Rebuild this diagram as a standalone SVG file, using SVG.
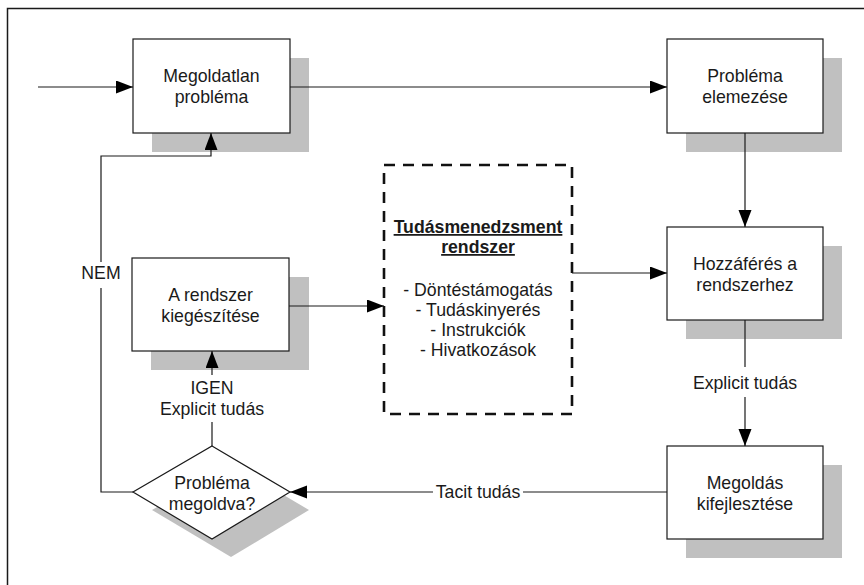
<svg xmlns="http://www.w3.org/2000/svg" width="864" height="585" viewBox="0 0 864 585">
<style>
text{font-family:"Liberation Sans",Arial,sans-serif;font-size:17.7px;fill:#1a1a1a;text-anchor:middle}
.box{fill:#fff;stroke:#1a1a1a;stroke-width:1.2}
.sh{fill:#c0c0c0}
.ln{fill:none;stroke:#1a1a1a;stroke-width:1.2}
.dash{fill:#fff;stroke:#111;stroke-width:2.6;stroke-dasharray:11 8}
.b{font-weight:bold;text-decoration:underline}
</style>
<defs>
<marker id="ah" markerUnits="userSpaceOnUse" markerWidth="18" markerHeight="14" refX="17" refY="6.5" orient="auto">
<path d="M0,0 L17,6.5 L0,13 Z" fill="#000"/>
</marker>
</defs>
<rect x="0" y="0" width="864" height="585" fill="#fff"/>
<path d="M7.5,585 L7.5,8.5 L864,8.5" fill="none" stroke="#1a1a1a" stroke-width="1.5"/>

<g id="n1">
<rect class="sh" x="152" y="58" width="157" height="94"/>
<rect class="box" x="133" y="39" width="157" height="94"/>
<text x="211.5" y="82">Megoldatlan</text>
<text x="211.5" y="103">probléma</text>
</g>
<g id="n2">
<rect class="sh" x="686" y="58" width="156" height="94"/>
<rect class="box" x="667" y="39" width="156" height="94"/>
<text x="745" y="82">Probléma</text>
<text x="745" y="103">elemezése</text>
</g>
<g id="n3">
<rect class="sh" x="686" y="246" width="156" height="93"/>
<rect class="box" x="667" y="227" width="156" height="93"/>
<text x="745" y="270">Hozzáférés a</text>
<text x="745" y="291">rendszerhez</text>
</g>
<g id="n4">
<rect class="sh" x="686" y="465" width="156" height="93"/>
<rect class="box" x="667" y="446" width="156" height="93"/>
<text x="745" y="489">Megoldás</text>
<text x="745" y="510">kifejlesztése</text>
</g>
<g id="n5">
<rect class="sh" x="151" y="277" width="158" height="93"/>
<rect class="box" x="132" y="258" width="157" height="93"/>
<text x="210.5" y="301">A rendszer</text>
<text x="210.5" y="322">kiegészítése</text>
</g>
<g id="n6">
<polygon class="sh" points="231,464 309,510 231,557 152,510"/>
<polygon class="box" points="212,446 290,492 212,539 133,492"/>
<text x="212" y="489">Probléma</text>
<text x="212" y="510">megoldva?</text>
</g>
<g id="n7">
<rect class="dash" x="384" y="165" width="188" height="249"/>
<text class="b" x="478" y="233">Tudásmenedzsment</text>
<text class="b" x="478" y="253">rendszer</text>
<text x="478" y="296">- Döntéstámogatás</text>
<text x="478" y="316">- Tudáskinyerés</text>
<text x="478" y="336">- Instrukciók</text>
<text x="478" y="356">- Hivatkozások</text>
</g>

<g id="connectors">
<line class="ln" x1="38" y1="87" x2="133" y2="87" marker-end="url(#ah)"/>
<line class="ln" x1="290" y1="87" x2="667" y2="87" marker-end="url(#ah)"/>
<line class="ln" x1="745" y1="133" x2="745" y2="227" marker-end="url(#ah)"/>
<line class="ln" x1="745" y1="320" x2="745" y2="367"/>
<line class="ln" x1="745" y1="397" x2="745" y2="446" marker-end="url(#ah)"/>
<text x="745" y="389">Explicit tudás</text>
<line class="ln" x1="667" y1="492" x2="523" y2="492"/>
<line class="ln" x1="433" y1="492" x2="290" y2="492" marker-end="url(#ah)"/>
<text x="478" y="498">Tacit tudás</text>
<line class="ln" x1="212" y1="446" x2="212" y2="422"/>
<line class="ln" x1="212" y1="375" x2="212" y2="351" marker-end="url(#ah)"/>
<text x="212" y="394">IGEN</text>
<text x="212" y="415">Explicit tudás</text>
<polyline class="ln" points="133,492 101,492 101,288"/>
<polyline class="ln" points="101,262 101,156 211,156 211,133" marker-end="url(#ah)"/>
<text x="101" y="279">NEM</text>
<line class="ln" x1="289" y1="306" x2="384" y2="306" marker-end="url(#ah)"/>
<line class="ln" x1="572" y1="273" x2="667" y2="273" marker-end="url(#ah)"/>
</g>
</svg>
